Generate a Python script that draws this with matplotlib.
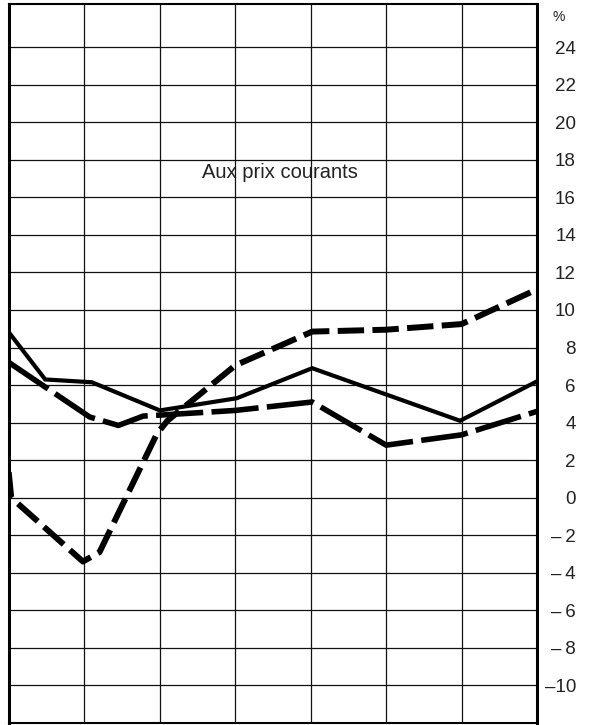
import matplotlib.pyplot as plt
import numpy as np

plt.rcParams['font.family'] = ['Liberation Sans', 'DejaVu Sans']
plt.rcParams['lines.scale_dashes'] = False

# Taux de variation annuels (%), positions en années depuis le bord gauche
x_a = [0.0, 0.48, 1.10, 2.00, 3.02, 4.02, 5.98, 7.0]
y_a = [8.8, 6.3, 6.15, 4.65, 5.3, 6.9, 4.1, 6.2]

x_b = [0.0, 1.07, 1.45, 1.78, 2.00, 3.00, 4.02, 5.00, 6.00, 7.0]
y_b = [7.2, 4.3, 3.85, 4.35, 4.4, 4.65, 5.1, 2.8, 3.35, 4.6]

x_c = [-0.05, 0.03, 0.98, 1.20, 1.96, 2.10, 3.00, 4.02, 5.00, 6.00, 7.0]
y_c = [3.2, 0.0, -3.4, -2.9, 3.4, 4.1, 7.05, 8.85, 8.95, 9.25, 11.1]

yticks = np.arange(-10, 25, 2)
ylabels = []
for v in yticks:
    if v <= -10:
        ylabels.append('–' + str(-v))
    elif v < 0:
        ylabels.append('–\u2009' + str(-v))
    else:
        ylabels.append(str(v))

fig = plt.figure(figsize=(5.89, 7.25), dpi=100)
ax = fig.add_axes([9 / 589, 2 / 725, 528 / 589, 719 / 725])

ax.set_xlim(0, 7)
ax.set_ylim(-12, 26.3)

# quadrillage
for xv in range(1, 7):
    ax.axvline(xv, color='#111111', lw=0.9, zorder=1)
for yv in range(-10, 26, 2):
    ax.axhline(yv, color='#111111', lw=0.9, zorder=1)

ax.plot(x_a, y_a, color='black', lw=3.0, solid_joinstyle='miter', zorder=3)
ax.plot(x_b, y_b, color='black', lw=4.0, dashes=(34, 6), zorder=3)
ax.plot(x_c, y_c, color='black', lw=4.3, dashes=(19, 6), zorder=3)

ax.text(3.59, 17.3, 'Aux prix courants', ha='center', va='center',
        fontsize=14.5, color='#222222', zorder=2)

ax.set_xticks([])
ax.yaxis.tick_right()
ax.set_yticks(yticks)
ax.set_yticklabels(ylabels, fontsize=13.5, color='#222222')
ax.tick_params(axis='y', length=0, pad=28)
for lab in ax.get_yticklabels():
    lab.set_horizontalalignment('right')

ax.text(1.03, 25.6, '%', transform=ax.get_yaxis_transform(),
        ha='left', va='center', fontsize=10, color='#222222')

for side in ['left', 'right']:
    ax.spines[side].set_linewidth(2.2)
for side in ['top', 'bottom']:
    ax.spines[side].set_linewidth(1.5)

fig.savefig('out.png', dpi=100)
